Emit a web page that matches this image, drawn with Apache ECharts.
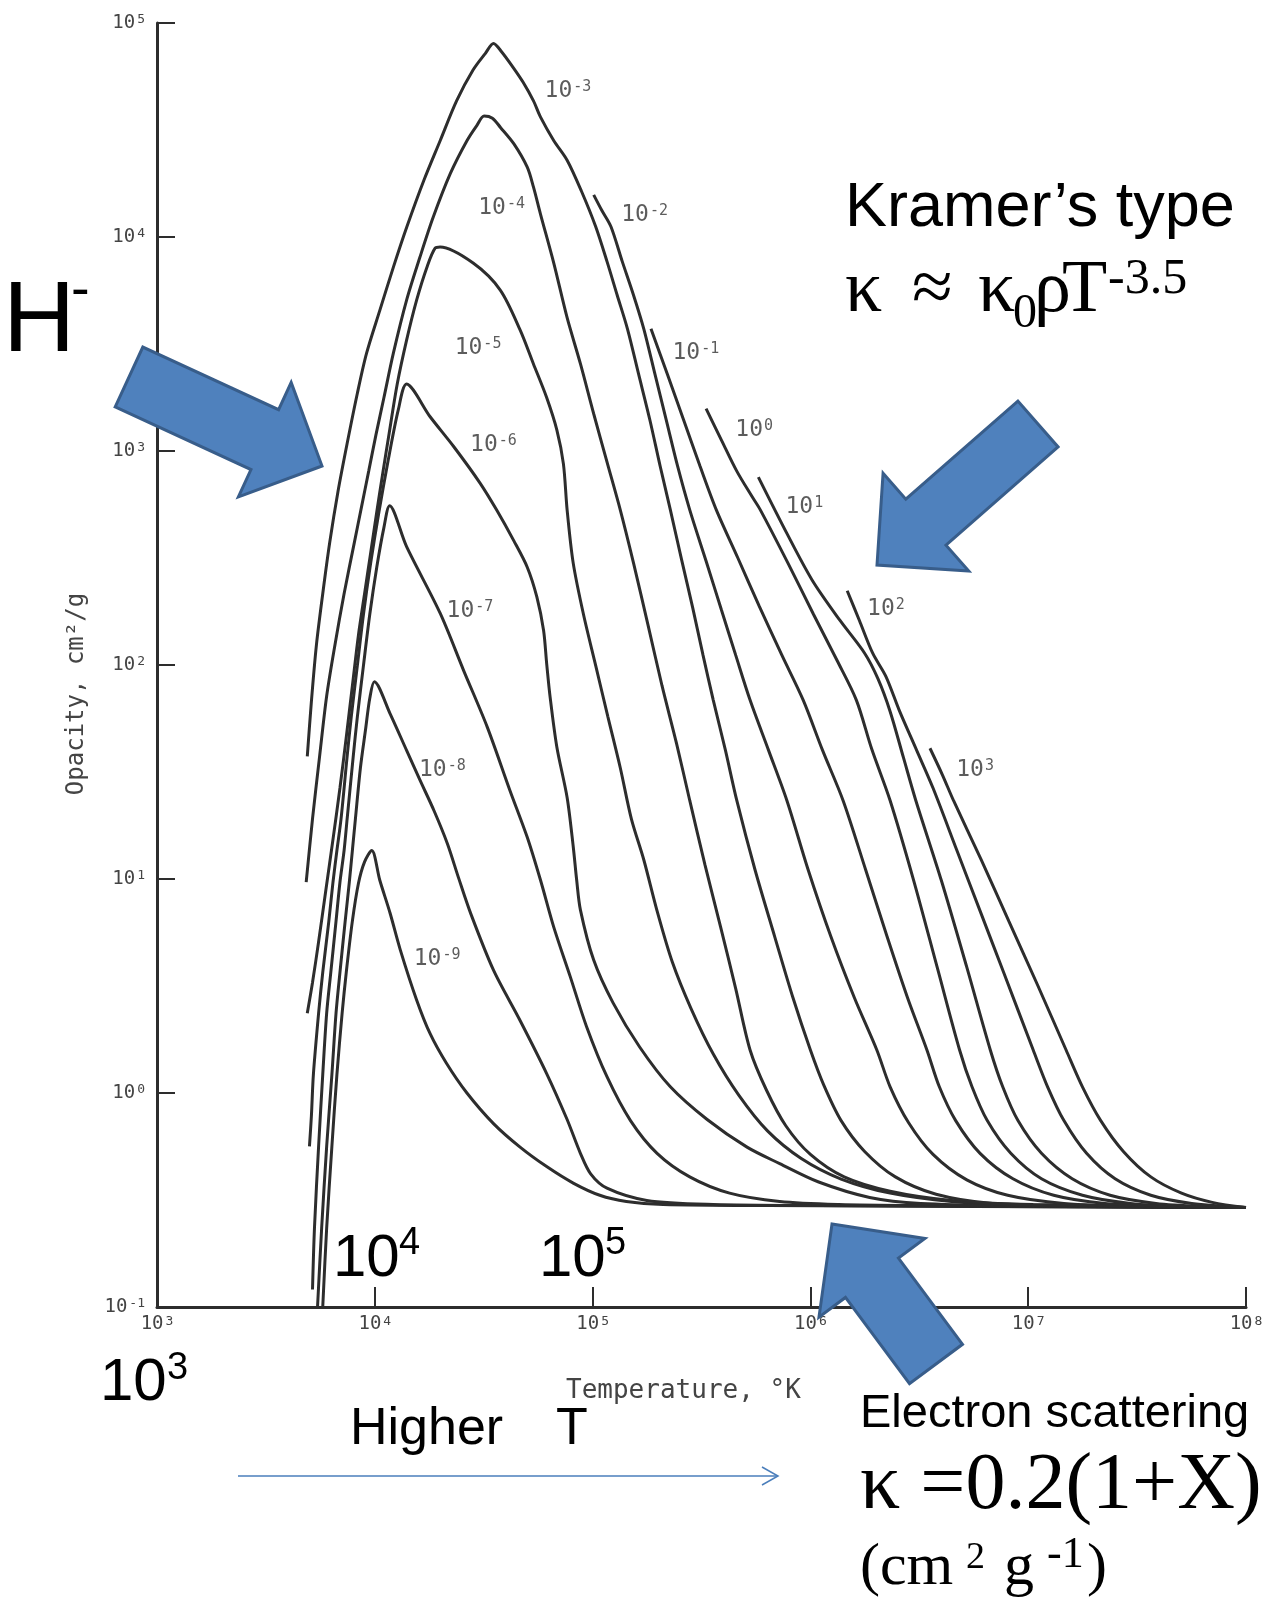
<!DOCTYPE html>
<html>
<head>
<meta charset="utf-8">
<title>Opacity vs temperature</title>
<script src="https://cdn.jsdelivr.net/npm/echarts@6/dist/echarts.min.js"></script>
<style>
  html, body { margin: 0; padding: 0; background: #fff; }
  #main { width: 1277px; height: 1604px; }
</style>
</head>
<body>
<div id="main"></div>
<script>
// one curve per density (g/cm3), points as [log10 T, log10 kappa]
var curve_m9 = [[3.761,-1.0],[3.779,-0.631],[3.803,-0.249],[3.826,0.086],[3.850,0.373],[3.869,0.564],[3.897,0.803],[3.925,0.980],[3.953,1.080],[3.986,1.133],
  [4.023,0.994],[4.070,0.841],[4.117,0.669],[4.192,0.435],[4.254,0.277],[4.329,0.139],[4.423,0.0],[4.545,-0.143],[4.667,-0.253],[4.789,-0.344],[4.911,-0.421],[5.033,-0.478],[5.155,-0.507],[5.324,-0.521],[5.803,-0.526],[8.0,-0.535]];
var curve_m8 = [[3.737,-1.0],[3.756,-0.631],[3.779,-0.249],[3.803,0.086],[3.822,0.373],[3.840,0.564],[3.864,0.803],[3.883,0.985],[3.897,1.133],[3.911,1.281],[3.934,1.520],[3.958,1.702],[3.977,1.845],[3.998,1.922],
  [4.070,1.773],[4.146,1.601],[4.207,1.463],[4.272,1.319],[4.333,1.166],[4.385,1.004],[4.441,0.837],[4.545,0.574],[4.667,0.339],[4.789,0.091],[4.883,-0.124],[4.944,-0.282],[4.991,-0.378],[5.066,-0.445],[5.249,-0.502],[5.554,-0.521],[6.038,-0.526],[8.0,-0.535]];
var curve_m7 = [[3.714,-0.918],[3.723,-0.631],[3.742,-0.249],[3.761,0.086],[3.779,0.373],[3.798,0.564],[3.822,0.803],[3.840,0.985],[3.859,1.133],[3.873,1.281],[3.901,1.573],[3.920,1.759],[3.948,1.998],[3.977,2.237],[4.009,2.457],[4.042,2.643],[4.068,2.744],
  [4.146,2.553],[4.300,2.242],[4.408,1.974],[4.516,1.711],[4.620,1.415],[4.700,1.195],[4.761,0.994],[4.822,0.774],[4.897,0.545],[4.972,0.311],[5.066,0.076],[5.174,-0.129],[5.296,-0.282],[5.446,-0.392],[5.629,-0.468],[5.859,-0.507],[6.131,-0.521],[6.507,-0.526],[8.0,-0.535]];
var curve_m6 = [[3.700,-0.249],[3.709,-0.105],[3.718,0.086],[3.742,0.373],[3.761,0.564],[3.789,0.803],[3.808,0.985],[3.826,1.133],[3.845,1.281],[3.873,1.573],[3.892,1.759],[3.920,1.998],[3.948,2.237],[3.981,2.476],[4.019,2.715],[4.061,2.954],[4.108,3.193],[4.146,3.313],
  [4.254,3.160],[4.362,3.021],[4.484,2.849],[4.559,2.725],[4.638,2.581],[4.700,2.457],[4.744,2.318],[4.775,2.161],[4.789,2.008],[4.805,1.850],[4.836,1.616],[4.883,1.381],[4.911,1.152],[4.927,0.994],[4.944,0.856],[5.005,0.621],[5.094,0.421],[5.216,0.215],[5.357,0.029],[5.526,-0.124],[5.709,-0.253],[5.859,-0.330],[6.038,-0.416],[6.272,-0.488],[6.507,-0.516],[6.977,-0.526],[8.0,-0.535]];
var curve_m5 = [[3.690,0.373],[3.714,0.516],[3.742,0.707],[3.775,0.946],[3.808,1.185],[3.840,1.425],[3.869,1.663],[3.897,1.902],[3.925,2.141],[3.953,2.333],[3.981,2.524],[4.009,2.715],[4.038,2.906],[4.066,3.083],[4.103,3.313],[4.146,3.518],[4.192,3.705],[4.239,3.858],[4.277,3.948],
  [4.300,3.953],[4.453,3.877],[4.576,3.752],[4.667,3.566],[4.728,3.408],[4.789,3.250],[4.836,3.098],[4.866,2.940],[4.883,2.725],[4.911,2.476],[4.958,2.237],[5.014,1.998],[5.070,1.759],[5.127,1.520],[5.178,1.281],[5.235,1.090],
  [5.296,0.851],[5.366,0.612],[5.451,0.397],[5.554,0.182],[5.671,-0.010],[5.803,-0.177],[5.958,-0.306],[6.141,-0.402],[6.366,-0.468],[6.648,-0.507],[7.023,-0.526],[8.0,-0.535]];
var curve_m4 = [[3.685,0.985],[3.714,1.281],[3.746,1.568],[3.779,1.855],[3.817,2.094],[3.859,2.333],[3.906,2.572],[3.939,2.739],[3.972,2.906],[4.005,3.074],[4.042,3.250],[4.085,3.456],[4.146,3.705],[4.207,3.905],[4.268,4.092],[4.347,4.297],[4.423,4.450],[4.469,4.522],[4.502,4.565],
  [4.540,4.555],[4.577,4.512],[4.638,4.436],[4.700,4.326],[4.728,4.235],[4.761,4.106],[4.822,3.877],[4.883,3.623],[4.944,3.408],[5.005,3.174],[5.066,2.949],[5.127,2.725],[5.188,2.476],[5.254,2.189],[5.319,1.902],[5.385,1.635],[5.446,1.367],[5.516,1.066],[5.587,0.779],[5.657,0.488],[5.723,0.201],
  [5.798,0.014],[5.887,-0.153],[6.000,-0.287],[6.155,-0.392],[6.366,-0.459],[6.648,-0.502],[7.023,-0.521],[8.0,-0.535]];
var curve_m3 = [[3.690,1.573],[3.709,1.831],[3.732,2.094],[3.761,2.333],[3.793,2.572],[3.831,2.811],[3.873,3.035],[3.920,3.270],[3.962,3.456],[4.023,3.657],[4.085,3.858],[4.146,4.044],[4.225,4.264],[4.300,4.450],[4.376,4.637],[4.451,4.780],[4.507,4.857],[4.545,4.904],
  [4.582,4.866],[4.634,4.794],[4.681,4.723],[4.728,4.637],[4.761,4.560],[4.822,4.450],[4.883,4.359],[4.948,4.216],[5.014,4.049],[5.066,3.886],[5.113,3.728],[5.160,3.571],[5.211,3.360],[5.263,3.145],[5.310,2.930],[5.357,2.725],[5.408,2.495],[5.460,2.266],[5.507,2.046],[5.554,1.836],[5.610,1.601],[5.662,1.367],[5.746,1.042],[5.836,0.731],[5.920,0.445],[6.000,0.201],
  [6.061,0.038],[6.141,-0.129],[6.249,-0.273],[6.390,-0.392],[6.577,-0.473],[6.836,-0.516],[7.258,-0.526],[8.0,-0.535]];
var curve_m2 = [[5.005,4.197],[5.042,4.125],[5.084,4.049],[5.136,3.886],[5.188,3.728],[5.235,3.571],[5.286,3.360],[5.338,3.145],[5.390,2.930],[5.446,2.725],[5.521,2.486],[5.592,2.256],[5.657,2.046],[5.723,1.836],[5.808,1.601],[5.892,1.367],[5.990,1.042],[6.094,0.731],[6.202,0.445],[6.305,0.201],
  [6.366,0.029],[6.451,-0.139],[6.563,-0.287],[6.718,-0.406],[6.906,-0.478],[7.164,-0.516],[7.540,-0.531],[8.0,-0.535]];
var curve_m1 = [[5.268,3.571],[5.343,3.360],[5.418,3.145],[5.493,2.930],[5.568,2.725],[5.667,2.500],[5.765,2.275],[5.869,2.046],[5.967,1.836],[6.056,1.601],[6.150,1.367],[6.254,1.042],[6.352,0.731],[6.446,0.445],[6.535,0.201],
  [6.592,0.029],[6.667,-0.129],[6.779,-0.282],[6.930,-0.401],[7.117,-0.478],[7.352,-0.516],[7.681,-0.531],[8.0,-0.535]];
var curve_0 = [[5.521,3.198],[5.592,3.050],[5.662,2.906],[5.732,2.787],[5.770,2.725],[5.897,2.476],[6.014,2.237],[6.122,2.022],[6.211,1.836],[6.282,1.606],[6.366,1.367],[6.474,0.994],[6.582,0.588],[6.685,0.201],
  [6.742,0.029],[6.812,-0.129],[6.920,-0.282],[7.061,-0.401],[7.249,-0.478],[7.469,-0.516],[7.728,-0.531],[8.0,-0.535]];
var curve_1 = [[5.761,2.878],[5.892,2.615],[6.009,2.395],[6.136,2.208],[6.249,2.055],[6.310,1.936],[6.366,1.783],[6.427,1.568],[6.484,1.367],[6.601,0.994],[6.718,0.588],[6.826,0.201],
  [6.883,0.029],[6.953,-0.129],[7.061,-0.282],[7.202,-0.401],[7.376,-0.478],[7.587,-0.516],[7.822,-0.531],[8.0,-0.535]];
var curve_2 = [[6.169,2.347],[6.225,2.208],[6.286,2.055],[6.347,1.946],[6.408,1.788],[6.488,1.601],[6.563,1.425],[6.671,1.138],[6.779,0.851],[6.887,0.564],[7.023,0.201],
  [7.089,0.029],[7.164,-0.129],[7.268,-0.282],[7.399,-0.401],[7.563,-0.478],[7.751,-0.516],[8.0,-0.535]];
var curve_3 = [[6.549,1.611],[6.606,1.487],[6.657,1.367],[6.784,1.090],[6.911,0.803],[7.042,0.507],[7.174,0.201],[7.249,0.029],[7.333,-0.129],[7.437,-0.273],[7.563,-0.392],[7.704,-0.468],[7.845,-0.511],[8.0,-0.535]];

var curves = [curve_m9, curve_m8, curve_m7, curve_m6, curve_m5, curve_m4, curve_m3,
              curve_m2, curve_m1, curve_0, curve_1, curve_2, curve_3];

// density tags written next to the curves: [exponent, log10 T, log10 kappa]
var densityTags = [
  ['-3', 4.887, 4.684], ['-4', 4.582, 4.135], ['-2', 5.239, 4.101], ['-5', 4.474, 3.480],
  ['-1', 5.474, 3.456], ['0', 5.742, 3.098], ['-6', 4.545, 3.026], ['1', 5.972, 2.739],
  ['2', 6.347, 2.261], ['-7', 4.437, 2.252], ['-8', 4.310, 1.511], ['3', 6.756, 1.511],
  ['-9', 4.286, 0.626]
];

function toValues(arr) {
  return arr.map(function (p) { return [Math.pow(10, p[0]), Math.pow(10, p[1])]; });
}
function powLabel(v) {
  var e = Math.round(Math.log(v) / Math.LN10);
  return '{b|10}{s|' + e + '}';
}
var MONO = '"DejaVu Sans Mono", "Liberation Mono", monospace';
var tickRich = {
  b: { fontFamily: MONO, fontSize: 19, color: '#444' },
  s: { fontFamily: MONO, fontSize: 13, color: '#444', verticalAlign: 'top', padding: [0, 0, 0, 2] }
};

var series = curves.map(function (c) {
  return {
    type: 'line', data: toValues(c), showSymbol: false, smooth: 0.3,
    lineStyle: { color: '#2d2d2d', width: 3 }, silent: true
  };
});
series.push({
  type: 'scatter', symbolSize: 1, itemStyle: { color: 'rgba(0,0,0,0)' }, silent: true,
  data: densityTags.map(function (t) {
    return {
      value: [Math.pow(10, t[1]), Math.pow(10, t[2])],
      label: { show: true, position: 'inside', formatter: '{b|10}{s|' + t[0] + '}' }
    };
  }),
  label: {
    rich: {
      b: { fontFamily: MONO, fontSize: 23, color: '#333' },
      s: { fontFamily: MONO, fontSize: 15, color: '#333', verticalAlign: 'top', padding: [0, 0, 0, 1] }
    }
  }
});

// blue block arrows
function blockArrow(tail, tip, shaftW, headW, headL) {
  var dx = tip[0] - tail[0], dy = tip[1] - tail[1];
  var len = Math.sqrt(dx * dx + dy * dy);
  var ux = dx / len, uy = dy / len, nx = -uy, ny = ux;
  var bx = tip[0] - ux * headL, by = tip[1] - uy * headL;
  var s = shaftW / 2, h = headW / 2;
  return {
    type: 'polygon', z: 50,
    shape: { points: [
      [tail[0] + nx * s, tail[1] + ny * s], [bx + nx * s, by + ny * s], [bx + nx * h, by + ny * h],
      tip, [bx - nx * h, by - ny * h], [bx - nx * s, by - ny * s], [tail[0] - nx * s, tail[1] - ny * s]
    ] },
    style: { fill: '#4f81bd', stroke: '#385d8a', lineWidth: 3 }
  };
}
function txt(str, x, base, size, family, opts) {
  opts = opts || {};
  var al = opts.align || 'left';
  return {
    type: 'text', z: 60, x: x, y: base - 0.345 * size, rotation: opts.rot || 0,
    style: {
      text: str, font: 'normal ' + size + 'px ' + family,
      fill: opts.fill || '#000', textAlign: al, align: al,
      textVerticalAlign: 'middle', verticalAlign: 'middle'
    }
  };
}
var SANS = '"Liberation Sans", Arial, sans-serif';
var SERIF = '"Liberation Serif", "Times New Roman", serif';

var yName = txt('Opacity, cm\u00b2/g', 77, 0, 24, MONO, { rot: Math.PI / 2, align: 'center', fill: '#444' });
yName.y = 694;

var graphics = [
  blockArrow([129, 377], [322, 466], 66, 126, 63),
  blockArrow([1038, 424], [877, 565], 61, 130, 65),
  blockArrow([936, 1364], [832, 1224], 66, 132, 67),
  { type: 'line', z: 50, shape: { x1: 238, y1: 1476, x2: 778, y2: 1476 }, style: { stroke: '#4a7ebb', lineWidth: 1.5 } },
  { type: 'polyline', z: 50, shape: { points: [[762, 1467], [778, 1476], [762, 1485]] }, style: { stroke: '#4a7ebb', lineWidth: 1.5, fill: null } },

  txt('H', 3, 358, 100, SANS),
  txt('-', 71, 311, 56, SANS),
  txt('Kramer\u2019s type', 845, 230, 63, SANS),
  txt('\u03ba', 845, 317, 74, SERIF),
  txt('\u2248', 912, 317, 74, SERIF),
  txt('\u03ba', 978, 317, 74, SERIF),
  txt('0', 1013, 331, 48, SERIF),
  txt('\u03c1', 1034, 317, 74, SERIF),
  txt('T', 1062, 317, 74, SERIF),
  txt('-3.5', 1108, 297, 50, SERIF),

  txt('10', 333, 1280, 60, SANS),
  txt('4', 399, 1257, 38, SANS),
  txt('10', 539, 1280, 60, SANS),
  txt('5', 605, 1257, 38, SANS),
  txt('10', 100, 1404, 60, SANS),
  txt('3', 167, 1382, 38, SANS),
  txt('Higher', 350, 1448, 52, SANS),
  txt('T', 556, 1448, 52, SANS),

  txt('Electron scattering', 860, 1430, 47, SANS),
  txt('\u03ba =0.2(1+X)', 860, 1515, 80, SERIF),
  txt('(cm', 860, 1589, 60, SERIF),
  txt('2', 966, 1571, 38, SERIF),
  txt('g', 1004, 1589, 60, SERIF),
  txt('-1', 1047, 1571, 44, SERIF),
  txt(')', 1087, 1589, 60, SERIF),

  yName,
  txt('Temperature, \u00b0K', 566, 1400, 26, MONO, { fill: '#444' })
];

var chart = echarts.init(document.getElementById('main'));
chart.setOption({
  animation: false,
  backgroundColor: '#ffffff',
  grid: { left: 157, right: 31, top: 23, bottom: 297 },
  xAxis: {
    type: 'log', logBase: 10, min: 1e3, max: 1e8, splitNumber: 5,
    axisLine: { lineStyle: { color: '#2d2d2d', width: 3 } },
    axisTick: { inside: true, length: 20, lineStyle: { color: '#2d2d2d', width: 2 } },
    minorTick: { show: false },
    splitLine: { show: false },
    axisLabel: { formatter: powLabel, margin: 8, rich: tickRich }
  },
  yAxis: {
    type: 'log', logBase: 10, min: 0.1, max: 1e5, splitNumber: 6,
    axisLine: { show: true, lineStyle: { color: '#2d2d2d', width: 3 } },
    axisTick: { show: true, inside: true, length: 18, lineStyle: { color: '#2d2d2d', width: 2 } },
    splitLine: { show: false },
    axisLabel: { formatter: powLabel, margin: 12, rich: tickRich }
  },
  series: series,
  graphic: graphics
});
</script>
</body>
</html>
